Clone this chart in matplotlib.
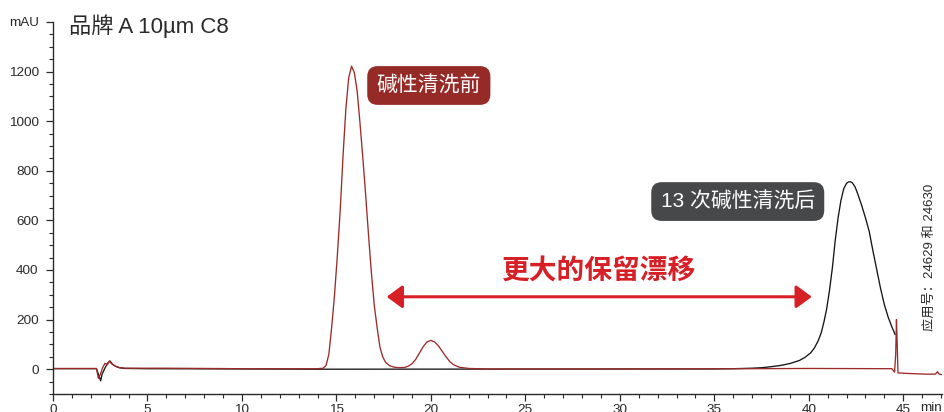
import matplotlib
matplotlib.use("Agg")
import matplotlib.pyplot as plt
from matplotlib.ticker import MultipleLocator

FONT = ["Liberation Sans", "Noto Sans CJK SC", "DejaVu Sans"]
plt.rcParams["font.family"] = FONT

# chromatogram: retention time (min) and signal (mAU)
red_t = [0.0, 2.3, 2.40, 2.5, 2.62, 2.75, 2.88, 2.98, 3.1, 3.3, 3.5, 3.8, 6.0, 10.0,
         14.0, 14.3, 14.45, 14.6, 14.75, 14.9, 15.05, 15.2, 15.35, 15.5, 15.65, 15.8,
         15.95, 16.1, 16.25, 16.4, 16.55, 16.7, 16.85, 17.0, 17.15, 17.3, 17.45, 17.6,
         17.8, 18.0, 18.3, 18.6, 18.8, 19.0, 19.2, 19.4, 19.6, 19.8, 20.0, 20.2, 20.4,
         20.6, 20.8, 21.0, 21.2, 21.5, 22.0, 23.0, 30.0, 37.0, 40.0, 44.4, 44.54, 44.6,
         44.64, 44.68, 44.72, 45.2, 46.2, 46.7, 46.81, 46.9, 47.05]
red_v = [3, 3, -37, -22, 5, 24, 18, 33, 22, 12, 7, 4, 4, 2,
         2, 4, 15, 60, 170, 300, 460, 640, 860, 1050, 1175, 1222,
         1195, 1120, 990, 850, 700, 540, 390, 260, 170, 90, 50, 28,
         15, 9, 6, 7, 12, 22, 40, 66, 92, 110, 116, 110, 94,
         72, 50, 31, 18, 8, 3, 1, 1, 2, 3, 2, -12, 60,
         200, 100, -15, -17, -20, -20, -10, -20, -22]

black_t = [0.0, 2.3, 2.45, 2.52, 2.6, 2.75, 2.9, 3.02, 3.15, 3.3, 3.5, 3.8, 5.0, 10.0,
           14.0, 35.0, 36.0, 37.0, 37.5, 38.0, 38.5, 39.0, 39.5, 39.8, 40.1, 40.3,
           40.5, 40.65, 40.8, 40.95, 41.1, 41.25, 41.4, 41.55, 41.7, 41.85, 42.0, 42.1,
           42.2, 42.3, 42.45, 42.6, 42.8, 43.0, 43.2, 43.4, 43.6, 43.8, 44.0, 44.2,
           44.4, 44.57]
black_v = [2, 2, -30, -47, -20, 5, 25, 33, 20, 12, 6, 3, 2, 1,
           0, 1, 2, 4, 6, 10, 15, 23, 35, 48, 66, 86,
           115, 145, 190, 245, 320, 410, 520, 610, 680, 728, 750, 755,
           756, 752, 735, 705, 660, 610, 555, 475, 400, 325, 260, 210,
           170, 140]

y_ticks = [0, 200, 400, 600, 800, 1000, 1200, 1400]
y_labels = ["0", "200", "400", "600", "800", "1000", "1200", "mAU"]
x_ticks = [0, 5, 10, 15, 20, 25, 30, 35, 40, 45]

RED_TRACE = "#9c2b28"
RED_TEXT = "#d71f26"
GREY_BOX = "#47484a"
INK = "#2a2a2a"

fig = plt.figure(figsize=(9.44, 4.12), dpi=100)
ax = fig.add_axes([53 / 944, 18 / 412, 889 / 944, 372 / 412])

ax.plot(black_t, black_v, color="#151515", lw=0.95)
ax.plot(red_t, red_v, color=RED_TRACE, lw=0.95)

ax.set_xlim(0, 47.05)
ax.set_ylim(-100, 1400)
for side in ("top", "right"):
    ax.spines[side].set_visible(False)
for side in ("left", "bottom"):
    ax.spines[side].set_color(INK)
    ax.spines[side].set_linewidth(1.0)

ax.set_yticks(y_ticks)
ax.set_yticklabels(y_labels)
ax.yaxis.set_minor_locator(MultipleLocator(50))
ax.set_xticks(x_ticks)
ax.xaxis.set_minor_locator(MultipleLocator(1))
ax.tick_params(which="major", length=4.8, width=0.9, color=INK, labelsize=9.7,
               labelcolor=INK)
ax.tick_params(axis="y", which="major", pad=5.5)
ax.tick_params(axis="x", which="major", pad=2.5)
ax.tick_params(which="minor", length=2.8, width=0.8, color=INK)

# axis unit at the end of the time axis
ax.text(46.45, -134, "min", ha="center", va="top", fontsize=9.7, color=INK,
        clip_on=False)

ax.text(0.85, 1382, "品牌 A 10µm C8", ha="left", va="center", fontsize=16,
        color=INK)

ax.text(19.89, 1144, "碱性清洗前", ha="center", va="center", fontsize=15,
        color="white",
        bbox=dict(boxstyle="round,pad=0.45,rounding_size=0.5", fc="#952a26", ec="none"))
ax.text(36.24, 676, "13 次碱性清洗后", ha="center", va="center", fontsize=15,
        color="white",
        bbox=dict(boxstyle="round,pad=0.45,rounding_size=0.5", fc=GREY_BOX, ec="none"))

ax.text(28.9, 392, "更大的保留漂移", ha="center", va="center", fontsize=20,
        fontweight="bold", color=RED_TEXT)
ax.annotate("", xy=(40.16, 292), xytext=(17.66, 292),
            arrowprops=dict(arrowstyle="<|-|>,head_length=0.95,head_width=0.7",
                            color=RED_TEXT, lw=2.2, mutation_scale=10,
                            shrinkA=0, shrinkB=0))

ax.text(46.4, 452, "应用号：24629 和 24630", rotation=90, ha="center", va="center",
        fontsize=9.5, color=INK)

fig.savefig("out.png", dpi=100)
